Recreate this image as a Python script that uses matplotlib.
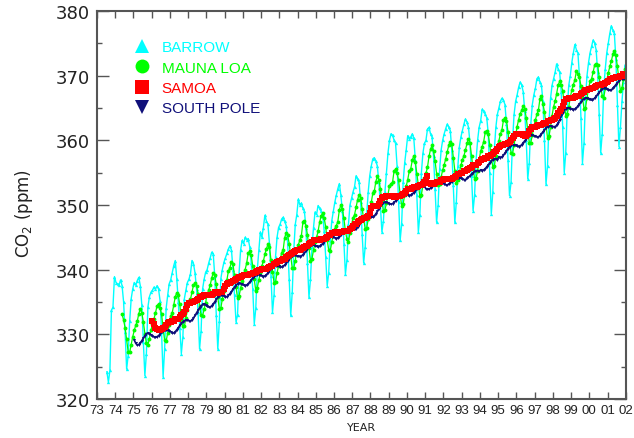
#!/usr/bin/env python3
"""Monthly CO2 at four baseline stations, 1973-2002."""

import matplotlib
matplotlib.use("Agg")
import matplotlib.pyplot as plt
import numpy as np
from matplotlib.lines import Line2D
from matplotlib.ticker import MultipleLocator

YEAR_TICKS = list(range(1973, 2003))
YEAR_LABELS = ["73", "74", "75", "76", "77", "78", "79", "80", "81", "82",
               "83", "84", "85", "86", "87", "88", "89", "90", "91", "92",
               "93", "94", "95", "96", "97", "98", "99", "00", "01", "02"]

# first month of each record (year, month)
BRW_START = (1973, 7)
MLO_START = (1974, 5)
SPO_START = (1975, 1)
SMO_START = (1976, 1)

# monthly means, ppm
BARROW = [
    324.2, 322.6, 324.4, 333.7, 334.2, 338.9,
    338.0, 337.8, 337.6, 338.4, 337.5, 335.0, 330.3, 324.6, 326.7, 332.0, 335.5, 337.0,
    338.0, 337.6, 338.3, 338.8, 337.5, 334.5, 328.8, 323.6, 327.0, 334.2, 335.8, 336.5,
    336.8, 337.3, 337.0, 337.5, 337.0, 335.2, 330.3, 323.4, 327.7, 334.0, 336.0, 337.8,
    338.4, 339.5, 340.6, 341.4, 338.6, 335.0, 331.0, 327.0, 329.5, 335.5, 336.8, 338.0,
    338.5, 339.3, 341.4, 340.9, 339.5, 337.0, 333.5, 327.7, 330.5, 337.0, 338.5, 339.6,
    340.0, 341.0, 341.8, 342.7, 342.4, 339.0, 333.0, 327.7, 332.0, 338.6, 340.0, 341.1,
    341.8, 342.5, 343.2, 343.7, 343.0, 340.0, 336.0, 331.9, 333.0, 339.5, 343.0, 344.5,
    344.0, 345.0, 344.6, 344.8, 343.5, 341.0, 337.0, 331.6, 334.0, 340.0, 343.0, 345.8,
    345.0, 346.5, 348.4, 347.5, 347.0, 344.0, 339.0, 333.4, 336.0, 342.0, 345.0, 346.5,
    347.0, 347.8, 348.1, 347.5, 346.8, 344.0, 338.5, 332.9, 336.5, 343.0, 347.0, 348.5,
    350.9, 350.0, 350.3, 349.5, 349.0, 346.5, 341.0, 335.7, 338.5, 343.5, 346.5, 348.9,
    348.5, 349.9, 349.5, 349.0, 348.6, 346.0, 342.0, 337.5, 339.5, 344.5, 347.5, 349.0,
    350.4, 351.5, 352.5, 353.3, 351.5, 349.0, 344.0, 339.3, 341.5, 347.0, 350.0, 351.0,
    352.0, 352.8, 354.5, 354.0, 353.5, 350.5, 345.5, 341.0, 343.5, 348.5, 352.0, 354.5,
    356.0, 357.1, 357.3, 356.8, 356.0, 353.5, 350.0, 345.8, 347.5, 352.0, 355.0, 358.0,
    360.0, 361.0, 360.8, 360.0, 359.5, 356.0, 350.5, 344.5, 347.0, 353.5, 356.5, 358.5,
    360.7, 360.2, 360.5, 361.0, 360.3, 357.0, 351.5, 345.8, 348.5, 355.0, 358.0, 359.5,
    360.0, 361.7, 362.0, 361.0, 360.5, 357.5, 352.5, 347.3, 350.0, 355.5, 358.5, 360.0,
    361.0, 361.8, 362.5, 362.0, 361.5, 358.5, 353.0, 347.3, 350.5, 356.0, 359.0, 360.5,
    361.5, 362.5, 363.3, 362.8, 362.0, 359.5, 354.5, 349.1, 351.5, 357.0, 360.0, 362.0,
    363.0, 364.8, 364.5, 364.0, 363.5, 361.0, 355.0, 348.6, 352.0, 358.5, 362.0, 364.0,
    365.0, 366.0, 366.5, 366.2, 365.5, 362.5, 357.0, 351.4, 353.5, 360.0, 364.0, 366.0,
    367.0, 368.2, 369.0, 368.5, 367.5, 364.5, 360.0, 354.0, 356.5, 362.5, 365.5, 367.0,
    368.0, 369.5, 369.8, 369.0, 368.5, 366.0, 360.0, 353.2, 356.0, 363.0, 366.5, 368.5,
    369.5, 370.5, 371.8, 371.0, 370.5, 367.5, 362.0, 355.0, 358.0, 365.0, 368.5, 370.0,
    372.0, 373.5, 374.8, 374.0, 373.5, 370.0, 363.5, 356.5, 359.5, 366.5, 370.0, 372.0,
    373.5, 374.5, 375.5, 375.0, 374.0, 370.5, 364.0, 358.0, 361.0, 368.0, 371.0, 373.5,
    375.0, 376.5, 377.7, 377.0, 376.5, 372.5, 365.5, 359.0, 362.0, 366.0, 369.0, 371.6,
]

MAUNA_LOA = [
    333.1, 332.2, 331.0, 329.2, 327.3, 327.2, 328.4, 329.6,
    330.6, 331.4, 332.0, 333.2, 333.9, 333.3, 331.9, 330.1, 328.6, 328.4, 329.3, 330.6,
    331.6, 332.4, 333.3, 334.4, 334.7, 334.1, 333.1, 330.9, 329.1, 328.9, 330.2, 331.4,
    332.8, 333.3, 334.5, 335.8, 336.4, 336.0, 334.6, 332.4, 331.3, 331.2, 332.5, 333.7,
    334.8, 335.4, 336.5, 337.6, 337.9, 337.5, 336.3, 334.4, 332.9, 332.8, 333.9, 334.9,
    336.2, 336.8, 337.6, 338.7, 339.5, 339.1, 337.7, 335.7, 333.9, 334.0, 335.5, 336.7,
    337.8, 338.4, 339.8, 340.3, 341.2, 340.8, 339.1, 337.3, 335.6, 335.9, 337.1, 338.2,
    339.3, 340.0, 341.0, 342.5, 342.8, 342.2, 340.5, 338.5, 336.7, 337.2, 338.4, 339.5,
    340.6, 341.3, 342.4, 343.2, 343.9, 343.5, 341.5, 339.7, 338.0, 338.1, 339.5, 340.6,
    341.4, 342.6, 343.0, 344.9, 345.7, 345.3, 344.0, 342.1, 340.2, 340.2, 341.4, 343.0,
    343.8, 344.6, 345.2, 347.3, 347.5, 346.8, 345.4, 343.3, 341.4, 341.7, 343.0, 344.2,
    345.0, 345.9, 347.3, 348.3, 348.7, 348.0, 346.6, 344.6, 343.0, 342.9, 344.2, 345.6,
    346.3, 346.8, 347.4, 349.2, 350.0, 349.4, 347.9, 345.9, 344.7, 344.3, 345.7, 346.9,
    348.0, 348.5, 349.6, 350.8, 351.6, 351.1, 349.4, 347.9, 346.3, 346.4, 347.8, 348.9,
    350.4, 351.8, 352.1, 353.6, 354.4, 353.9, 352.5, 350.6, 349.0, 349.2, 350.3, 351.6,
    352.9, 353.3, 353.5, 355.2, 355.5, 354.9, 353.8, 351.6, 349.9, 350.2, 351.5, 352.9,
    353.9, 355.2, 355.6, 356.9, 357.6, 356.6, 354.8, 353.0, 351.3, 351.6, 353.0, 354.2,
    354.9, 355.8, 357.5, 358.6, 359.2, 358.3, 356.8, 354.8, 353.0, 353.2, 354.3, 355.4,
    356.2, 357.1, 358.2, 359.2, 359.8, 359.4, 357.3, 355.3, 353.4, 353.8, 355.0, 356.1,
    357.0, 357.6, 358.5, 359.5, 360.2, 359.6, 357.5, 355.8, 354.0, 354.1, 355.3, 357.0,
    358.3, 359.0, 359.8, 361.2, 361.5, 360.9, 359.3, 357.4, 355.9, 356.0, 357.6, 359.0,
    359.9, 361.0, 361.6, 363.1, 363.5, 363.0, 361.3, 359.4, 358.1, 357.9, 359.3, 360.8,
    362.1, 363.2, 364.1, 364.6, 365.3, 364.8, 363.5, 361.5, 359.6, 359.6, 360.8, 362.2,
    363.1, 364.0, 364.6, 366.4, 366.8, 365.6, 364.4, 362.4, 360.4, 360.6, 362.1, 363.8,
    365.2, 366.0, 367.2, 368.5, 369.1, 368.6, 367.6, 365.7, 363.8, 364.1, 365.2, 366.6,
    367.8, 368.6, 369.3, 370.7, 370.3, 369.7, 368.4, 366.7, 364.9, 365.0, 366.5, 368.0,
    369.1, 369.5, 370.5, 371.6, 371.8, 371.7, 369.7, 368.3, 366.9, 366.6, 368.0, 369.3,
    370.4, 371.4, 372.2, 373.3, 373.8, 373.1, 371.4, 369.4, 367.6, 368.1, 369.5, 371.0,
]

SAMOA = [
    332.1, 331.6, 331.0, 330.8, 330.6, 330.7, 330.8, 331.0, 331.1, 331.4, 331.7, 331.9,
    331.9, 332.0, 332.1, 332.3, 332.4, 332.4, 332.6, 332.9, 333.1, 333.4, 333.9, 334.5,
    334.9, 334.9, 335.0, 335.0, 335.1, 335.3, 335.5, 335.7, 335.8, 335.9, 336.0, 336.0,
    336.0, 336.0, 336.0, 336.1, 336.3, 336.5, 336.5, 336.4, 336.5, 336.5, 336.6, 337.0,
    337.4, 337.7, 338.0, 338.0, 338.1, 338.3, 338.4, 338.6, 338.7, 338.8, 338.9, 339.0,
    339.1, 339.1, 339.2, 339.2, 339.3, 339.3, 339.4, 339.5, 339.6, 339.8, 339.9, 340.0,
    340.1, 340.1, 340.1, 340.1, 340.2, 340.4, 340.6, 340.6, 340.8, 341.0, 341.2, 341.3,
    341.4, 341.5, 341.6, 341.7, 341.9, 342.1, 342.2, 342.4, 342.6, 342.7, 342.9, 343.0,
    343.0, 343.1, 343.2, 343.3, 343.5, 343.6, 343.7, 343.9, 344.1, 344.3, 344.5, 344.5,
    344.5, 344.5, 344.6, 344.7, 344.7, 344.8, 344.9, 345.1, 345.3, 345.4, 345.6, 345.7,
    345.8, 345.8, 345.7, 345.8, 345.8, 345.8, 345.9, 345.9, 346.0, 346.0, 346.2, 346.5,
    346.8, 347.0, 347.1, 347.3, 347.5, 347.6, 347.8, 347.9, 348.0, 348.1, 348.3, 348.7,
    349.5, 349.9, 349.9, 349.9, 349.9, 350.2, 350.6, 351.0, 351.2, 351.2, 351.3, 351.3,
    351.4, 351.4, 351.3, 351.2, 351.2, 351.3, 351.3, 351.4, 351.5, 351.7, 351.9, 352.2,
    352.4, 352.5, 352.5, 352.6, 352.7, 352.7, 352.8, 352.9, 353.0, 353.1, 353.3, 353.6,
    353.8, 354.5, 353.4, 353.2, 353.2, 353.3, 353.4, 353.5, 353.5, 353.6, 353.8, 353.9,
    354.0, 354.0, 354.0, 354.0, 354.0, 354.0, 354.1, 354.3, 354.5, 354.7, 354.8, 354.9,
    355.0, 355.2, 355.3, 355.4, 355.5, 355.7, 355.9, 356.1, 356.1, 356.2, 356.4, 356.7,
    356.9, 357.1, 357.1, 357.2, 357.3, 357.5, 357.6, 357.7, 357.9, 358.2, 358.4, 358.7,
    358.9, 359.1, 359.2, 359.3, 359.4, 359.4, 359.5, 359.8, 360.1, 360.4, 360.7, 361.0,
    361.0, 361.0, 361.0, 360.9, 360.8, 360.7, 360.7, 361.0, 361.4, 361.8, 362.0, 362.0,
    362.1, 362.2, 362.3, 362.3, 362.4, 362.5, 362.6, 362.7, 362.9, 363.0, 363.1, 363.2,
    363.3, 363.5, 363.8, 364.2, 364.5, 364.8, 365.3, 365.9, 366.4, 366.4, 366.5, 366.5,
    366.6, 366.6, 366.7, 366.8, 366.9, 366.9, 367.1, 367.3, 367.5, 367.7, 367.8, 367.9,
    367.9, 368.0, 368.1, 368.2, 368.4, 368.5, 368.6, 368.6, 368.7, 368.7, 368.8, 369.0,
    369.2, 369.5, 369.5, 369.6, 369.6, 369.7, 369.7, 369.8, 369.9, 370.0, 370.2, 370.3,
]

SOUTH_POLE = [
    329.1, 328.6, 328.3, 328.4, 328.7, 329.0, 329.4, 329.8, 330.1, 330.2, 330.1, 329.9,
    329.7, 329.6, 329.5, 329.6, 329.8, 330.0, 330.3, 330.5, 330.6, 330.6, 330.6, 330.5,
    330.4, 330.2, 330.2, 330.4, 330.7, 331.0, 331.4, 331.7, 331.9, 332.1, 332.2, 332.2,
    332.1, 332.0, 332.2, 332.5, 332.9, 333.3, 333.7, 334.1, 334.4, 334.6, 334.6, 334.5,
    334.3, 334.2, 334.2, 334.4, 334.7, 335.0, 335.4, 335.7, 335.9, 336.0, 336.0, 335.9,
    335.8, 335.8, 336.0, 336.3, 336.6, 337.0, 337.3, 337.6, 337.8, 337.9, 337.8, 337.7,
    337.6, 337.5, 337.6, 337.8, 338.1, 338.4, 338.7, 338.9, 339.1, 339.2, 339.2, 339.1,
    339.0, 338.9, 339.0, 339.2, 339.5, 339.8, 340.1, 340.3, 340.5, 340.6, 340.6, 340.5,
    340.4, 340.4, 340.5, 340.7, 341.0, 341.3, 341.6, 341.9, 342.1, 342.2, 342.2, 342.1,
    342.1, 342.0, 342.1, 342.3, 342.6, 342.9, 343.2, 343.5, 343.7, 343.8, 343.8, 343.7,
    343.6, 343.5, 343.6, 343.8, 344.0, 344.3, 344.6, 344.8, 345.0, 345.1, 345.1, 345.0,
    344.9, 344.8, 344.9, 345.1, 345.3, 345.6, 345.9, 346.1, 346.3, 346.4, 346.4, 346.3,
    346.2, 346.2, 346.3, 346.6, 346.9, 347.3, 347.6, 347.9, 348.1, 348.2, 348.2, 348.1,
    348.1, 348.1, 348.3, 348.6, 349.0, 349.4, 349.8, 350.1, 350.3, 350.4, 350.4, 350.3,
    350.2, 350.1, 350.2, 350.4, 350.6, 350.9, 351.2, 351.4, 351.6, 351.7, 351.7, 351.6,
    351.5, 351.4, 351.5, 351.7, 351.9, 352.2, 352.5, 352.7, 352.9, 353.0, 353.0, 352.9,
    352.5, 352.4, 352.4, 352.6, 352.8, 353.1, 353.3, 353.5, 353.7, 353.7, 353.7, 353.6,
    353.2, 353.1, 353.1, 353.2, 353.4, 353.6, 353.8, 354.0, 354.1, 354.2, 354.2, 354.1,
    354.0, 353.9, 353.9, 354.1, 354.3, 354.5, 354.8, 355.0, 355.2, 355.3, 355.3, 355.2,
    355.4, 355.3, 355.4, 355.6, 355.9, 356.2, 356.5, 356.8, 357.0, 357.1, 357.1, 357.0,
    357.4, 357.3, 357.4, 357.7, 358.0, 358.4, 358.7, 359.0, 359.2, 359.3, 359.3, 359.2,
    359.1, 359.0, 359.1, 359.3, 359.6, 359.9, 360.2, 360.5, 360.7, 360.8, 360.8, 360.7,
    360.6, 360.5, 360.5, 360.7, 361.0, 361.3, 361.6, 361.9, 362.1, 362.2, 362.2, 362.1,
    362.1, 362.1, 362.3, 362.7, 363.2, 363.7, 364.2, 364.6, 364.9, 365.0, 365.0, 364.9,
    364.8, 364.7, 364.8, 365.0, 365.3, 365.6, 365.9, 366.2, 366.4, 366.5, 366.5, 366.4,
    366.3, 366.2, 366.3, 366.5, 366.8, 367.1, 367.4, 367.7, 367.9, 368.0, 368.0, 367.9,
    367.8, 367.7, 367.8, 368.0, 368.3, 368.6, 368.9, 369.2, 369.4, 369.5, 369.5, 369.4,
]

STATIONS = [
    # label, values, start, color, marker, marker size, line width
    ("BARROW", BARROW, BRW_START, "#00ffff", "^", 2.4, 1.0),
    ("MAUNA LOA", MAUNA_LOA, MLO_START, "#00ff00", "o", 2.8, 0.9),
    ("SOUTH POLE", SOUTH_POLE, SPO_START, "#10107a", "v", 2.2, 1.2),
    ("SAMOA", SAMOA, SMO_START, "#ff0000", "s", 4.8, 1.0),
]
LEGEND_ORDER = ["BARROW", "MAUNA LOA", "SAMOA", "SOUTH POLE"]
FRAME = "#555555"


def month_axis(start, n):
    """Decimal year at mid-month for n consecutive months."""
    year, month = start
    return year + (month - 0.5 + np.arange(n)) / 12.0


def main() -> None:
    fig = plt.figure(figsize=(6.34, 4.39), dpi=100)
    ax = fig.add_axes([0.153, 0.089, 0.834, 0.884])

    handles = {}
    for label, values, start, color, marker, ms, lw in STATIONS:
        x = month_axis(start, len(values))
        ax.plot(x, values, color=color, lw=lw, marker=marker, ms=ms, mew=0)
        handles[label] = Line2D([], [], ls="none", marker=marker, color=color,
                                ms=10, mew=0)

    ax.set_xlim(1973, 2002)
    ax.set_ylim(320, 380)
    ax.set_xticks(YEAR_TICKS)
    ax.set_xticklabels(YEAR_LABELS, fontsize=9.5, family="Liberation Sans",
                       color="#222222")
    ax.yaxis.set_major_locator(MultipleLocator(10))
    ax.yaxis.set_minor_locator(MultipleLocator(5))
    for t in ax.get_yticklabels():
        t.set_fontsize(13)
        t.set_color("#222222")

    ax.tick_params(axis="x", which="major", direction="in", length=5,
                   width=1, color=FRAME, top=True, pad=4)
    ax.tick_params(axis="y", which="major", direction="in", length=8.5,
                   width=1, color=FRAME, right=True, pad=5)
    ax.tick_params(axis="y", which="minor", direction="in", length=3.6,
                   width=1, color=FRAME, right=True)
    for sp in ax.spines.values():
        sp.set_color(FRAME)
        sp.set_linewidth(1.5)

    ax.set_ylabel("CO$_2$ (ppm)", fontsize=12, color="#222222")
    ax.yaxis.set_label_coords(-0.118, 0.48)
    ax.set_xlabel("YEAR", fontsize=8, color="#222222", labelpad=4)

    leg = ax.legend([handles[k] for k in LEGEND_ORDER], LEGEND_ORDER,
                    loc="upper left", bbox_to_anchor=(0.06, 0.94),
                    frameon=False, handlelength=1.0, handletextpad=0.75,
                    labelspacing=0.42, borderaxespad=0,
                    prop={"family": "Liberation Sans", "size": 11})
    for text, k in zip(leg.get_texts(), LEGEND_ORDER):
        text.set_color(handles[k].get_color())

    fig.savefig("out.png", dpi=100)
    plt.close(fig)


if __name__ == "__main__":
    main()
